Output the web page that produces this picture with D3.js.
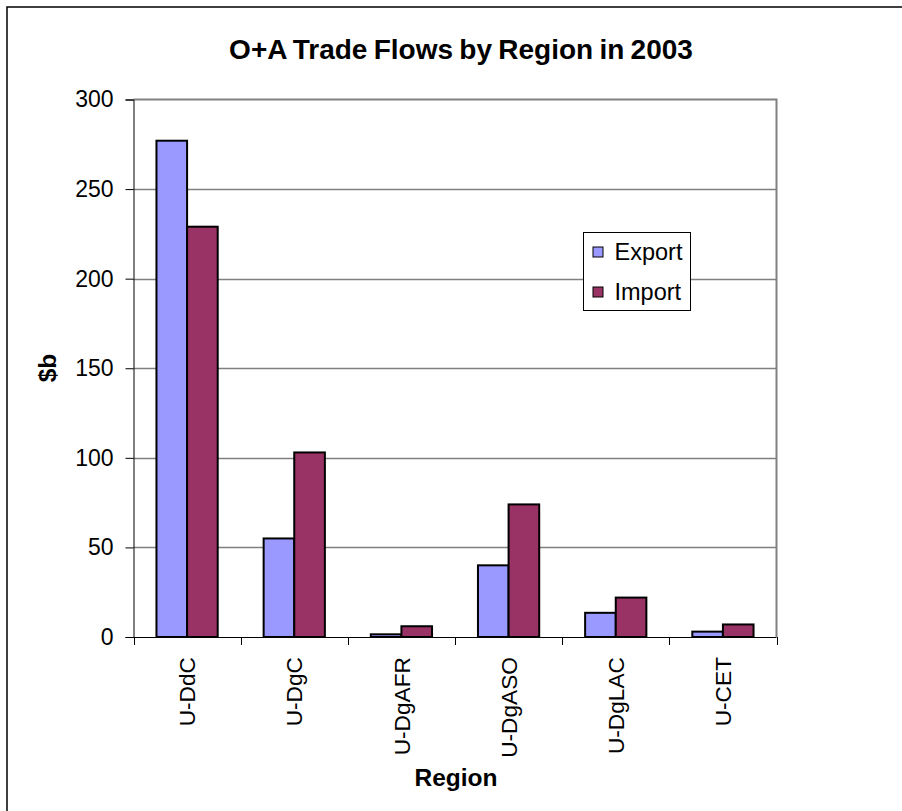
<!DOCTYPE html>
<html>
<head>
<meta charset="utf-8">
<script src="https://cdn.jsdelivr.net/npm/d3@7"></script>
<style>
  html, body { margin: 0; padding: 0; background: #fff; }
  svg { display: block; font-family: "Liberation Sans", Arial, sans-serif; }
</style>
</head>
<body>
<svg id="chart" width="902" height="811"></svg>
<script>
// Trade flows (billions of dollars) by region, 2003
const regions = ["U-DdC", "U-DgC", "U-DgAFR", "U-DgASO", "U-DgLAC", "U-CET"];
const seriesNames = ["Export", "Import"];
const exportValues = [277, 55, 1.5, 40, 13.5, 3];
const importValues = [229, 103, 6, 74, 22, 7];
const yTicks = [0, 50, 100, 150, 200, 250, 300];
const seriesColors = ["#9999FF", "#993366"];

const titleText = "O+A Trade Flows by Region in 2003";
const xTitle = "Region";
const yTitle = "$b";

const rows = regions.map((r, i) => ({ region: r, Export: exportValues[i], Import: importValues[i] }));

const svg = d3.select("#chart");

// outer chart frame
svg.append("rect")
  .attr("x", 7).attr("y", 7)
  .attr("width", 1200).attr("height", 1200)
  .attr("fill", "#fff").attr("stroke", "#000").attr("stroke-width", 1.5);

const plot = { left: 133.5, right: 776.5, top: 99.5, bottom: 637 };

const x0 = d3.scaleBand().domain(regions).range([plot.left, plot.right]).padding(0);
const bw = x0.bandwidth();
const x1 = d3.scaleBand().domain(seriesNames)
  .range([bw * 0.75 / 3.5, bw * 2.75 / 3.5]).padding(0);
const y = d3.scaleLinear().domain([0, 300]).range([plot.bottom, plot.top]);
const color = d3.scaleOrdinal().domain(seriesNames).range(seriesColors);

// gridlines
svg.append("g")
  .selectAll("line")
  .data(yTicks.filter(v => v > 0 && v < 300))
  .join("line")
  .attr("x1", plot.left).attr("x2", plot.right)
  .attr("y1", d => Math.round(y(d)) + 0.5).attr("y2", d => Math.round(y(d)) + 0.5)
  .attr("stroke", "#808080").attr("stroke-width", 1.3);

// plot area border (top and right)
svg.append("path")
  .attr("d", `M${plot.left},${y(300)}H${plot.right}V${plot.bottom}`)
  .attr("fill", "none").attr("stroke", "#808080").attr("stroke-width", 2);

// bars
const groups = svg.append("g")
  .selectAll("g")
  .data(rows)
  .join("g")
  .attr("transform", d => `translate(${x0(d.region)},0)`);

groups.selectAll("rect")
  .data(d => seriesNames.map(k => ({ key: k, value: d[k] })))
  .join("rect")
  .attr("x", d => x1(d.key))
  .attr("y", d => y(d.value))
  .attr("width", x1.bandwidth())
  .attr("height", d => y(0) - y(d.value))
  .attr("fill", d => color(d.key))
  .attr("stroke", "#000").attr("stroke-width", 2);

// y axis
const yAxis = d3.axisLeft(y).tickValues(yTicks).tickSize(8).tickPadding(12).tickFormat(d3.format("d"));
const gy = svg.append("g").attr("transform", `translate(${plot.left},0)`).call(yAxis);
gy.selectAll("text").attr("font-size", 23).attr("fill", "#000").attr("font-family", "Liberation Sans, Arial, sans-serif");
gy.selectAll("line, path").attr("stroke", "#000");

// x axis with ticks at category boundaries
svg.append("line")
  .attr("x1", plot.left).attr("x2", plot.right)
  .attr("y1", plot.bottom + 0.5).attr("y2", plot.bottom + 0.5)
  .attr("stroke", "#000");
const bounds = regions.map(r => x0(r)).concat([plot.right]);
svg.append("g")
  .selectAll("line")
  .data(bounds)
  .join("line")
  .attr("x1", d => Math.round(d) + 0.5).attr("x2", d => Math.round(d) + 0.5)
  .attr("y1", plot.bottom).attr("y2", plot.bottom + 8)
  .attr("stroke", "#000");

// category labels (rotated)
svg.append("g")
  .selectAll("text")
  .data(regions)
  .join("text")
  .attr("transform", d => `translate(${x0(d) + bw / 2},657) rotate(-90)`)
  .attr("text-anchor", "end")
  .attr("dy", "0.36em")
  .attr("font-size", 22.7)
  .text(d => d);

// titles
svg.append("text")
  .attr("x", 461).attr("y", 59)
  .attr("text-anchor", "middle")
  .attr("font-size", 28).attr("font-weight", "bold")
  .attr("word-spacing", -1.5)
  .text(titleText);

svg.append("text")
  .attr("x", 456).attr("y", 786)
  .attr("text-anchor", "middle")
  .attr("font-size", 24.5).attr("font-weight", "bold")
  .text(xTitle);

svg.append("text")
  .attr("transform", "translate(56,368) rotate(-90)")
  .attr("text-anchor", "middle")
  .attr("font-size", 24.5).attr("font-weight", "bold")
  .text(yTitle);

// legend
const legend = svg.append("g").attr("transform", "translate(583.5,232.5)");
legend.append("rect")
  .attr("width", 107).attr("height", 78)
  .attr("fill", "#fff").attr("stroke", "#000").attr("stroke-width", 1);
const items = legend.selectAll("g.item")
  .data(seriesNames)
  .join("g")
  .attr("class", "item")
  .attr("transform", (d, i) => `translate(0,${14.5 + i * 40})`);
items.append("rect")
  .attr("x", 9.5).attr("width", 10).attr("height", 10)
  .attr("fill", d => color(d)).attr("stroke", "#000").attr("stroke-width", 1);
items.append("text")
  .attr("x", 31).attr("y", 5)
  .attr("dy", "0.36em")
  .attr("font-size", 23.5)
  .text(d => d);
</script>
</body>
</html>
